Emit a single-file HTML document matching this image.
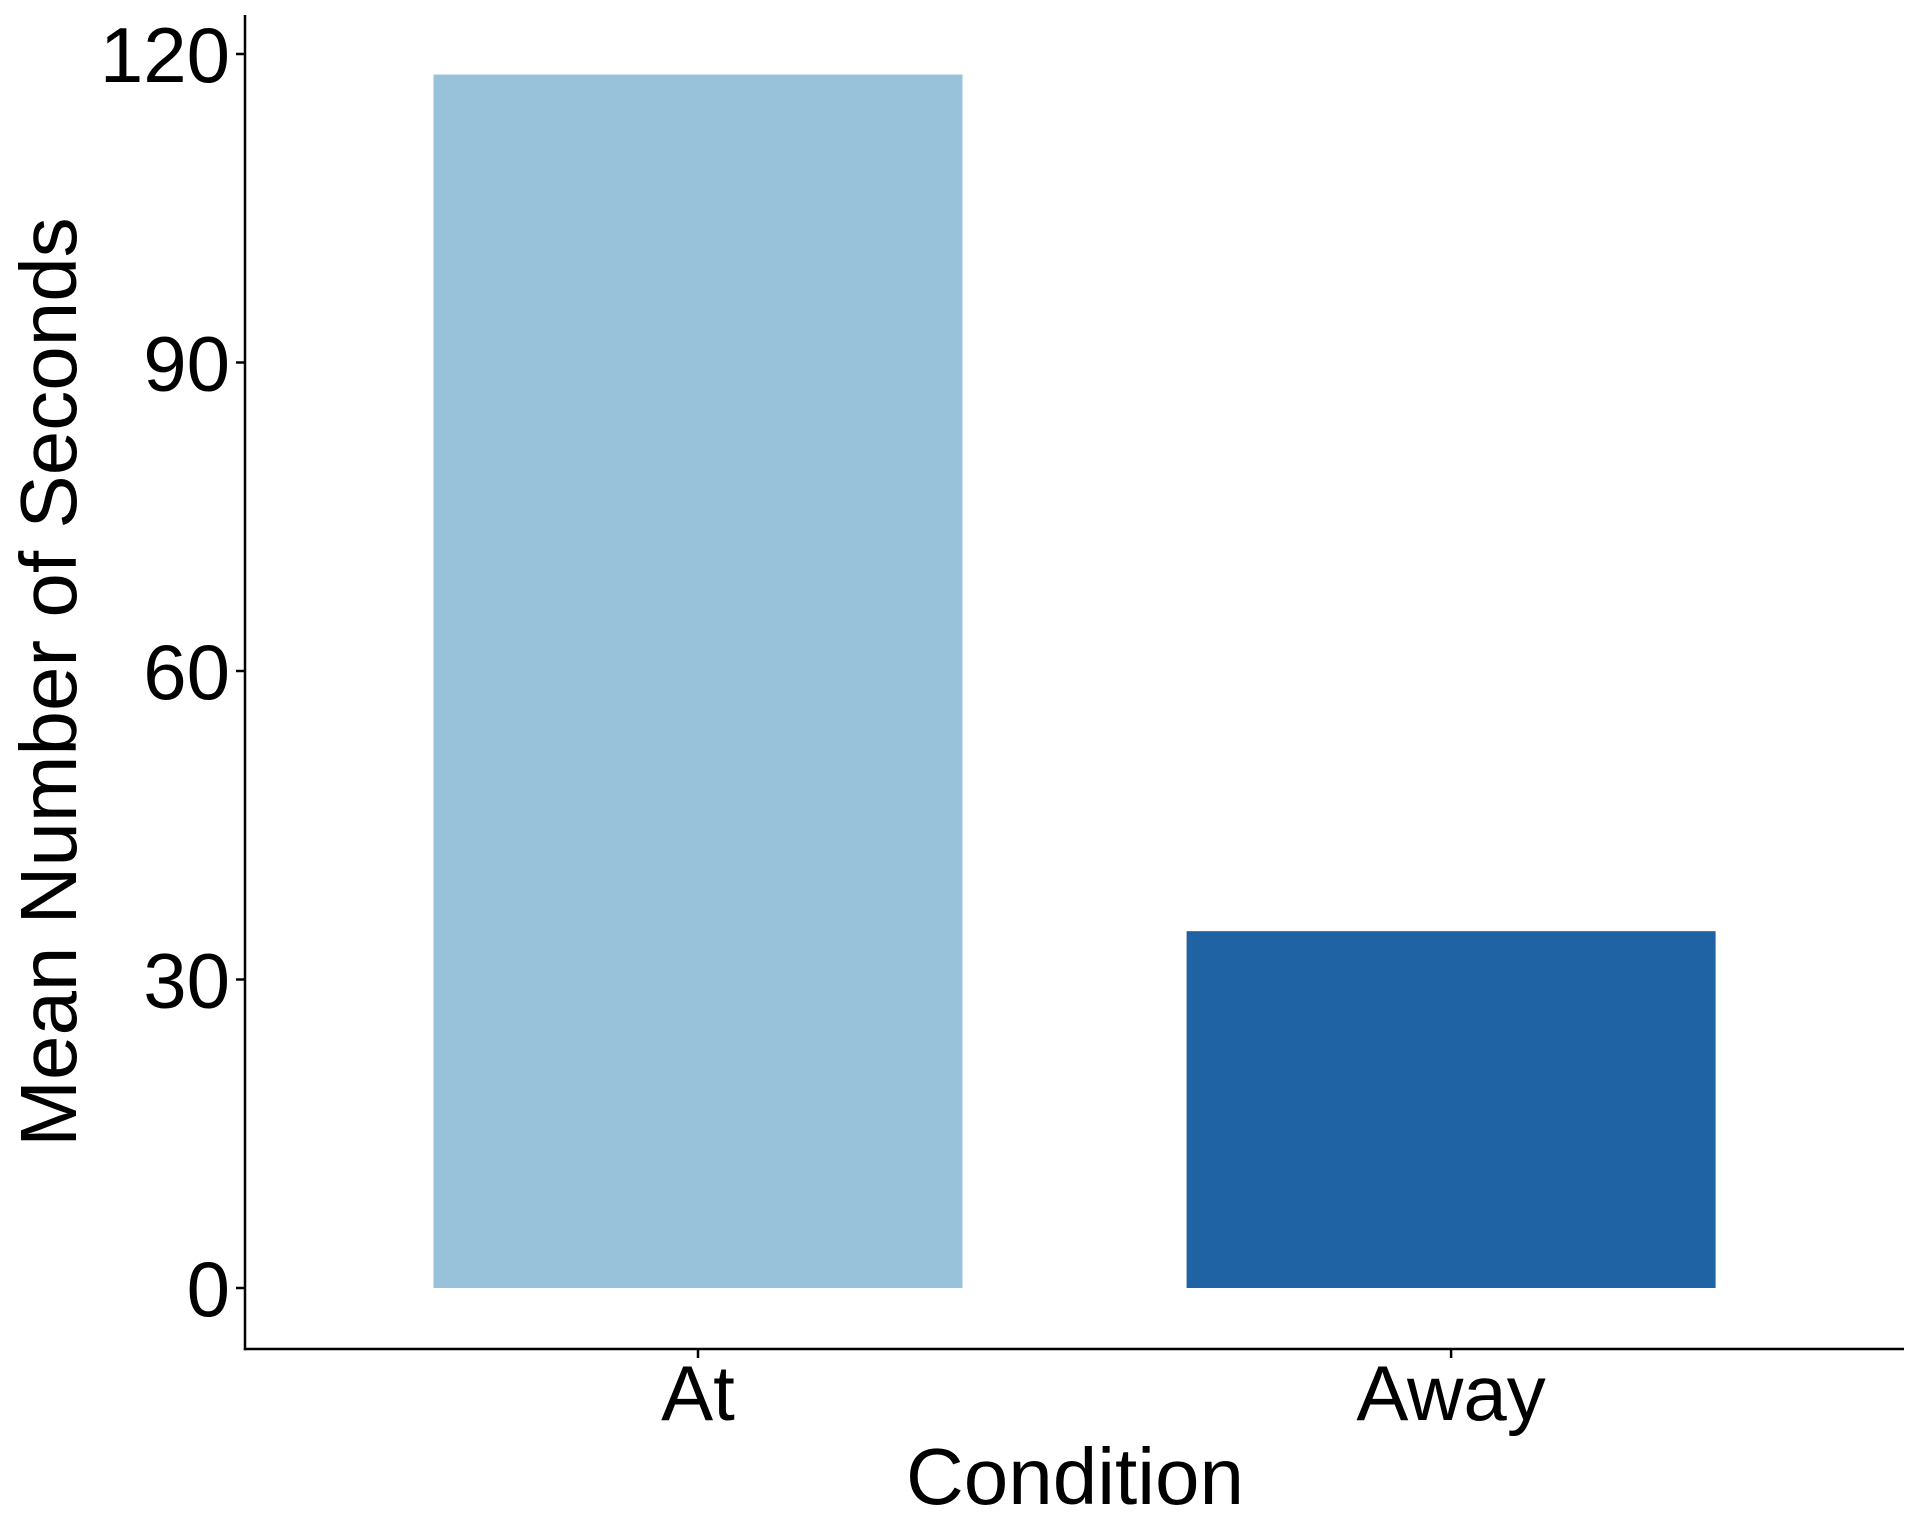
<!DOCTYPE html>
<html><head><meta charset="utf-8"><style>
html,body{margin:0;padding:0;background:#fff;}
svg{display:block;font-family:"Liberation Sans",Arial,sans-serif;}
</style></head><body>
<svg id="chart" width="1920" height="1536" viewBox="0 0 1920 1536" xmlns="http://www.w3.org/2000/svg">
<g id="bars"></g>
<g id="axes"></g>
<text x="1075" y="1504" font-size="80" text-anchor="middle" fill="#000">Condition</text>
<text transform="translate(76,682) rotate(-90)" font-size="80" text-anchor="middle" fill="#000">Mean Number of Seconds</text>
</svg>
<script>
const categories = ["At", "Away"];
const values = [118, 34.7];
const colors = ["#97c2da", "#1f63a4"];
const yTicks = [0, 30, 60, 90, 120];
const yTickLabels = ["0", "30", "60", "90", "120"];

const NS = "http://www.w3.org/2000/svg";
const plot = {left: 245, right: 1904, top: 15, bottom: 1349};
const y0px = 1288, y120px = 54;
function yScale(v){ return y0px - (v/120)*(y0px - y120px); }
const xStart = 433.5, step = 753.1, barW = 529;
function xCenter(i){ return xStart + barW/2 + i*step; }

const bars = document.getElementById('bars');
categories.forEach((c,i)=>{
  const r = document.createElementNS(NS,'rect');
  
  
  const top = yScale(values[i]);
  r.setAttribute('x', xCenter(i) - barW/2);
  r.setAttribute('y', top);
  r.setAttribute('width', barW);
  r.setAttribute('height', yScale(0) - top);
  r.setAttribute('fill', colors[i]);
  bars.appendChild(r);
});

const axes = document.getElementById('axes');
function line(x1,y1,x2,y2,name){
  const l = document.createElementNS(NS,'line');
  
  
  l.setAttribute('x1',x1);l.setAttribute('y1',y1);l.setAttribute('x2',x2);l.setAttribute('y2',y2);
  l.setAttribute('stroke','#000');l.setAttribute('stroke-width','2.5');
  axes.appendChild(l);
}
line(plot.left, plot.top, plot.left, plot.bottom+1.2, 'y-axis-line');
line(plot.left-1.2, plot.bottom, plot.right, plot.bottom, 'x-axis-line');
yTicks.forEach((t,i)=>{
  const y = yScale(t);
  line(plot.left-9, y, plot.left, y, 'y-tick');
  const tx = document.createElementNS(NS,'text');
  
  
  tx.setAttribute('x', 230); tx.setAttribute('y', y+28);
  tx.setAttribute('font-size','78'); tx.setAttribute('text-anchor','end');
  tx.textContent = yTickLabels[i];
  axes.appendChild(tx);
});
categories.forEach((c,i)=>{
  const x = xCenter(i);
  line(x, plot.bottom, x, plot.bottom+9, 'x-tick');
  const tx = document.createElementNS(NS,'text');
  
  
  tx.setAttribute('x', x); tx.setAttribute('y', 1420);
  tx.setAttribute('font-size','78'); tx.setAttribute('text-anchor','middle');
  tx.textContent = c;
  axes.appendChild(tx);
});
</script>
</body></html>
